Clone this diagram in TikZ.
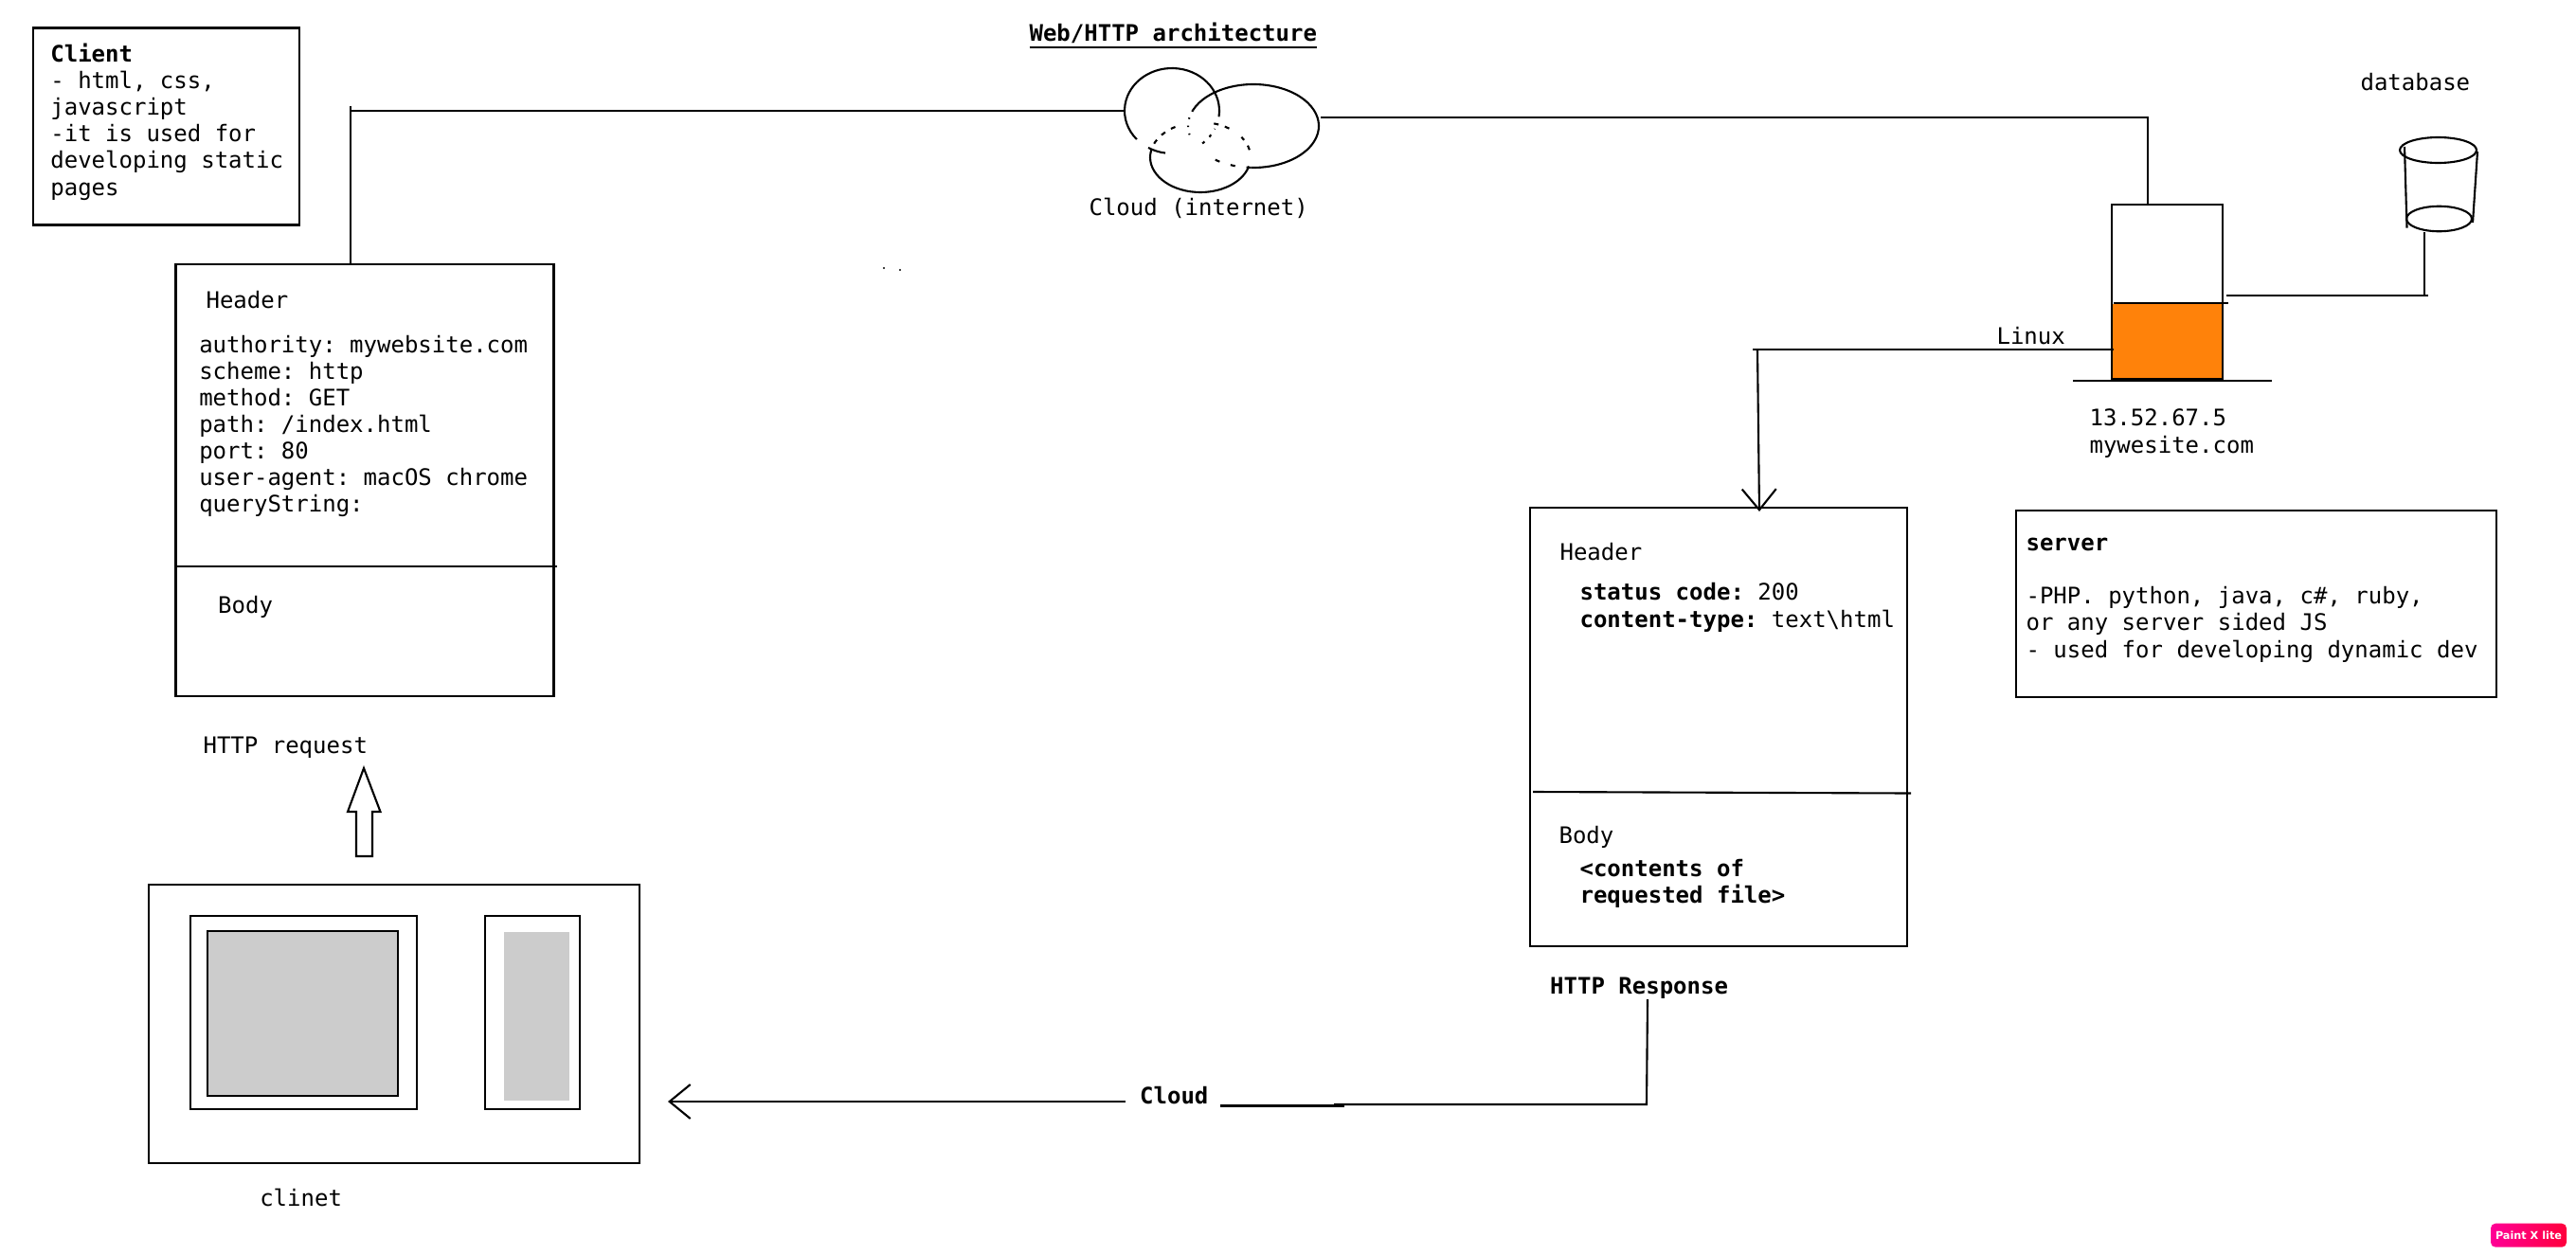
\documentclass[tikz,border=0pt]{standalone}
\usepackage{fontspec}
\setmonofont{DejaVu Sans Mono}
\setsansfont{DejaVu Sans}
\usepackage{xcolor}
\usetikzlibrary{arrows.meta, positioning, calc, shapes.geometric}
\definecolor{corange}{RGB}{255,130,10}
\definecolor{cscreen}{RGB}{204,204,204}
\definecolor{cpink}{RGB}{255,0,150}
\definecolor{cmark}{RGB}{255,0,60}
\newcommand{\labelfont}{\ttfamily\fontsize{6.83}{7.97}\selectfont}

\begin{document}
\begin{tikzpicture}[
    line width=0.6pt,
    >={Straight Barb[length=2.2mm, width=3.6mm]},
    plainbox/.style={draw, inner sep=0pt},
    monotext/.style={anchor=base west, inner sep=0pt, align=left, xshift=-0.15mm, yshift=-0.1mm, font=\labelfont},
    boldtext/.style={monotext, font=\labelfont\bfseries},
]
    \useasboundingbox (0,0) rectangle (27.19,-13.25);

    % Title and cloud
    \node[boldtext] (title) at (10.87,-0.42) {\underline{Web/HTTP architecture}};
    \coordinate (lobeA) at (12.37,-1.17);
    \coordinate (lobeB) at (13.23,-1.33);
    \coordinate (lobeC) at (12.67,-1.66);
    \coordinate (cloudL) at (11.87,-1.17);
    \coordinate (cloudR) at (13.94,-1.24);
    \draw ([shift={(-8:0.50 and 0.45)}]lobeA) arc[start angle=-8, end angle=222, x radius=0.50, y radius=0.45];
    \draw ([shift={(240:0.50 and 0.45)}]lobeA) arc[start angle=240, end angle=262, x radius=0.50, y radius=0.45];
    \draw[dash pattern=on 0.3mm off 0.7mm] ([shift={(-50:0.50 and 0.45)}]lobeA) arc[start angle=-50, end angle=-25, x radius=0.50, y radius=0.45];
    \draw ([shift={(158:0.69 and 0.44)}]lobeB) arc[start angle=158, end angle=-92, x radius=0.69, y radius=0.44];
    \draw[dash pattern=on 0.15mm off 0.7mm] ([shift={(158:0.69 and 0.44)}]lobeB) arc[start angle=158, end angle=200, x radius=0.69, y radius=0.44];
    \draw[dash pattern=on 0.5mm off 1.2mm] ([shift={(268:0.69 and 0.44)}]lobeB) arc[start angle=268, end angle=228, x radius=0.69, y radius=0.44];
    \draw ([shift={(175:0.53 and 0.37)}]lobeC) arc[start angle=175, end angle=345, x radius=0.53, y radius=0.37];
    \draw[dash pattern=on 0.5mm off 0.7mm] ([shift={(12:0.53 and 0.37)}]lobeC) arc[start angle=12, end angle=35, x radius=0.53, y radius=0.37];
    \draw[dash pattern=on 0.5mm off 0.7mm] ([shift={(55:0.53 and 0.37)}]lobeC) arc[start angle=55, end angle=75, x radius=0.53, y radius=0.37];
    \draw[dash pattern=on 0.5mm off 0.7mm] ([shift={(120:0.53 and 0.37)}]lobeC) arc[start angle=120, end angle=175, x radius=0.53, y radius=0.37];
    \node[monotext] (cloudtext) at (11.50,-2.26) {Cloud (internet)};

    % Client note
    \node[plainbox, minimum width=2.81cm, minimum height=2.08cm] (clientnote) at (1.752,-1.335) {};
    \node[monotext] (clienttext) at (0.538,-2.05) {\textbf{Client}\\- html, css,\\javascript\\-it is used for\\developing static\\pages};

    % HTTP request
    \node[plainbox, minimum width=3.99cm, minimum height=4.56cm] (reqbox) at (3.85,-5.07) {};
    \coordinate (reqtop) at (3.70,-2.79);
    \coordinate (reqcorner) at (3.70,-1.12);
    \draw (reqtop) -- (reqcorner);
    \draw (reqcorner |- cloudL) -- (cloudL);
    \node[monotext] (reqhead) at (2.18,-3.24) {Header};
    \node[monotext] (reqtext) at (2.107,-5.394) {authority: mywebsite.com\\scheme: http\\method: GET\\path: /index.html\\port: 80\\user-agent: macOS chrome\\queryString:};
    \coordinate (reqdivL) at (1.87,-5.98);
    \coordinate (reqdivR) at (5.88,-5.98);
    \draw (reqdivL) -- (reqdivR);
    \node[monotext] (reqbody) at (2.306,-6.46) {Body};
    \node[monotext] (reqlabel) at (2.15,-7.945) {HTTP request};
    \draw (3.76,-9.04) -- (3.76,-8.57) -- (3.67,-8.57) -- (3.84,-8.11) -- (4.015,-8.57) -- (3.93,-8.57) -- (3.93,-9.04) -- cycle;

    % Client machine
    \node[plainbox, minimum width=5.18cm, minimum height=2.936cm] (device) at (4.16,-10.808) {};
    \node[plainbox, minimum width=2.393cm, minimum height=2.037cm] (monitor) at (3.204,-10.688) {};
    \node[plainbox, fill=cscreen, minimum width=2.01cm, minimum height=1.736cm] (monscreen) at (3.195,-10.698) {};
    \node[plainbox, minimum width=1.00cm, minimum height=2.04cm] (phone) at (5.62,-10.69) {};
    \node[fill=cscreen, inner sep=0pt, minimum width=0.69cm, minimum height=1.78cm] (phonescreen) at (5.665,-10.73) {};
    \node[monotext] (devicelabel) at (2.747,-12.72) {clinet};

    % Server
    \node[plainbox, fill=corange, draw=none, minimum width=1.15cm, minimum height=0.785cm] (serverlow) at (22.875,-3.607) {};
    \node[plainbox, minimum width=1.17cm, minimum height=1.84cm] (server) at (22.875,-3.08) {};
    \coordinate (srvdivL) at (22.31,-3.20);
    \coordinate (srvdivR) at (23.52,-3.20);
    \draw (srvdivL) -- (srvdivR);
    \coordinate (groundL) at (21.88,-4.02);
    \coordinate (groundR) at (23.98,-4.02);
    \draw (groundL) -- (groundR);
    \coordinate (servertop) at (22.67,-2.16);
    \coordinate (servercorner) at (22.67,-1.24);
    \draw (cloudR) -- (servercorner) -- (servertop);
    \node[monotext] (linuxlabel) at (21.08,-3.627) {Linux};
    \node[monotext] (serveraddr) at (22.06,-4.77) {13.52.67.5\\mywesite.com};

    % Database
    \node[monotext] (dblabel) at (24.92,-0.94) {database};
    \node[draw, ellipse, inner sep=0pt, minimum width=0.81cm, minimum height=0.27cm] (dbtop) at (25.735,-1.585) {};
    \node[draw, ellipse, inner sep=0pt, minimum width=0.69cm, minimum height=0.265cm] (dbbottom) at (25.745,-2.31) {};
    \coordinate (dbsideA) at (25.38,-1.55);
    \coordinate (dbsideB) at (25.405,-2.407);
    \coordinate (dbsideC) at (26.15,-1.60);
    \coordinate (dbsideD) at (26.10,-2.35);
    \draw (dbsideA) -- (dbsideB);
    \draw (dbsideC) -- (dbsideD);
    \coordinate (dbfoot) at (25.59,-2.45);
    \coordinate (dbcorner) at (25.59,-3.12);
    \coordinate (dbwireL) at (23.50,-3.12);
    \coordinate (dbwireR) at (25.63,-3.12);
    \draw (dbfoot) -- (dbcorner);
    \draw (dbwireL) -- (dbwireR);

    % Server note
    \node[plainbox, minimum width=5.07cm, minimum height=1.97cm] (servernote) at (23.815,-6.375) {};
    \node[monotext] (servertext) at (21.39,-6.93) {\textbf{server}\\\mbox{}\\-PHP. python, java, c\#, ruby,\\or any server sided JS\\- used for developing dynamic dev};

    % HTTP response
    \coordinate (linuxend) at (22.31,-3.69);
    \coordinate (linuxstart) at (18.50,-3.69);
    \coordinate (respdrop) at (18.55,-3.69);
    \coordinate (resptip) at (18.57,-5.40);
    \draw (linuxstart) -- (linuxend);
    \draw[->] (respdrop) -- (resptip);
    \node[plainbox, minimum width=3.985cm, minimum height=4.63cm] (respbox) at (18.14,-7.675) {};
    \node[monotext] (resphead) at (16.47,-5.90) {Header};
    \node[monotext] (resptext) at (16.68,-6.61) {\textbf{status code:} 200\\\textbf{content-type:} text\textbackslash html};
    \coordinate (respdivL) at (16.18,-8.36);
    \coordinate (respdivR) at (20.17,-8.375);
    \draw (respdivL) -- (respdivR);
    \node[monotext] (respbody) at (16.46,-8.89) {Body};
    \node[boldtext] (respfile) at (16.68,-9.52) {<contents of\\requested file>};
    \node[boldtext] (resplabel) at (16.366,-10.48) {HTTP Response};

    % Response back to the client
    \node[boldtext] (cloudword) at (12.036,-11.64) {Cloud};
    \coordinate (respfoot) at (17.39,-10.55);
    \coordinate (respcorner) at (17.38,-11.66);
    \coordinate (respmid) at (14.08,-11.66);
    \coordinate (backA) at (12.88,-11.675);
    \coordinate (backB) at (14.19,-11.675);
    \coordinate (backC) at (11.88,-11.63);
    \coordinate (clienttip) at (7.05,-11.63);
    \draw (respfoot) -- (respcorner) -- (respmid);
    \draw (backA) -- (backB);
    \draw[->] (backC) -- (clienttip);

    % Stray marks and badge
    \fill (9.33,-2.83) circle (0.012);
    \fill (9.50,-2.85) circle (0.012);
    \node[rounded corners=0.05cm, left color=cpink, right color=cmark, text=white, inner sep=0pt, minimum width=0.80cm, minimum height=0.25cm, font=\sffamily\bfseries\fontsize{3.2}{4}\selectfont] (badge) at (26.69,-13.042) {Paint X lite};
\end{tikzpicture}
\end{document}
